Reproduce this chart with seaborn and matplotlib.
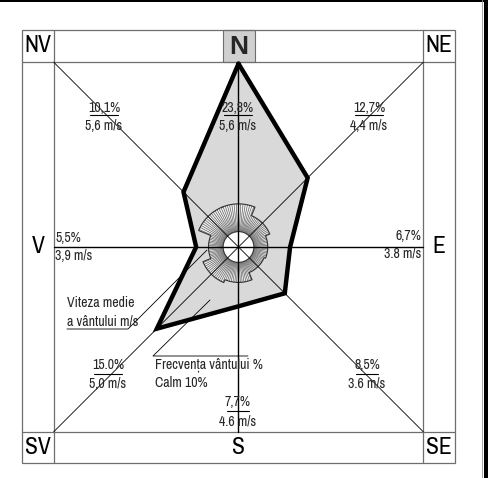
"""Wind rose - frecventa si viteza medie a vantului"""
import matplotlib

matplotlib.use("Agg")
import matplotlib.pyplot as plt
import numpy as np
import pandas as pd
import seaborn as sns
from matplotlib import font_manager
from matplotlib.patches import Rectangle

# data
directions = ["N", "NE", "E", "SE", "S", "SV", "V", "NV"]
frequency = [23.8, 12.7, 6.7, 8.5, 7.7, 15.0, 5.5, 10.1]
mean_speed = [5.6, 4.4, 3.8, 3.6, 4.6, 5.0, 3.9, 5.6]
freq_labels = ["23,8%", "12,7%", "6,7%", "8,5%", "7,7%", "15.0%", "5,5%", "10,1%"]
speed_labels = ["5,6 m/s", "4,4 m/s", "3.8 m/s", "3.6 m/s", "4.6 m/s",
                "5,0 m/s", "3,9 m/s", "5,6 m/s"]
calm = 10

# layout: 1 data unit = SCALE px, centre of the rose at (CX, CY) px
SCALE = 7.7
CX, CY = 238.5, 247.0
W, H = 503, 478
R_BOX = 24.0
R_CALM = 2.0
SMALL = 10


def P(x, y):
    """pixel position -> data units"""
    return (x - CX) / SCALE, (CY - y) / SCALE


sns.set_theme(style="white")
installed = {f.name for f in font_manager.fontManager.ttflist}
narrow = [f.name for f in font_manager.fontManager.ttflist
          if "Narrow" in f.name or "Condensed" in f.name]
wide = [f for f in ["Liberation Sans", "DejaVu Sans"] if f in installed]
family = narrow[:1] + wide
plt.rcParams["font.family"] = family + ["DejaVu Sans"]

fig = plt.figure(figsize=(W / 100, H / 100), dpi=100)
ax = fig.add_axes([0, 0, 1, 1])
ax.set_xlim(P(0, 0)[0], P(W, 0)[0])
ax.set_ylim(P(0, H)[1], P(0, 0)[1])
ax.axis("off")

# frequency polygon
df = pd.DataFrame({"dir": directions, "freq": frequency, "speed": mean_speed})
df["theta"] = np.deg2rad(np.arange(len(df)) * 45.0)
df["x"] = df["freq"] * np.sin(df["theta"])
df["y"] = df["freq"] * np.cos(df["theta"])
closed = pd.concat([df, df.iloc[:1]], ignore_index=True)
ax.fill(df["x"], df["y"], color="#d9d9d9", zorder=1, lw=0)

# mean speed ring (hatched sectors)
ring_x, ring_y, hx, hy = [], [], [], []
for i, s in enumerate(df["speed"]):
    a = np.deg2rad(np.arange(i * 45 - 22.5, i * 45 + 22.5 + 0.01, 3.0))
    ring_x += list(s * np.sin(a))
    ring_y += list(s * np.cos(a))
    for t in a[:-1] + np.deg2rad(1.5):
        hx += [R_CALM * np.sin(t), s * np.sin(t), np.nan]
        hy += [R_CALM * np.cos(t), s * np.cos(t), np.nan]
ax.fill(ring_x, ring_y, color="#f2f2f2", zorder=2, lw=0)
ax.plot(hx, hy, color="#555555", lw=0.45, zorder=3)
ax.plot(ring_x + ring_x[:1], ring_y + ring_y[:1], color="#333333", lw=0.8, zorder=3)
ax.add_patch(plt.Circle((0, 0), R_CALM, facecolor="white", edgecolor="#333333",
                        lw=0.8, zorder=4))

# axes of the rose
ax.plot([0, 0], [-R_BOX, R_BOX], color="black", lw=1.0, zorder=5)
ax.plot([-R_BOX, R_BOX], [0, 0], color="black", lw=1.0, zorder=5)
ax.plot([-R_BOX, R_BOX], [R_BOX, -R_BOX], color="black", lw=0.6, zorder=5)
ax.plot([-R_BOX, R_BOX], [-R_BOX, R_BOX], color="black", lw=0.6, zorder=5)

sns.lineplot(data=closed, x="x", y="y", sort=False, estimator=None, color="black",
             lw=3.2, ax=ax, zorder=6, solid_joinstyle="miter", legend=False)

# frame of direction cells
grey = "#6e6e6e"
x0, y0 = P(22, 463)
x1, y1 = P(455, 30)
ax.add_patch(Rectangle(P(223, 62), 32 / SCALE, 32 / SCALE, facecolor="#d0d0d0",
                       edgecolor=grey, lw=0.8, zorder=1))
ax.add_patch(Rectangle((x0, y0), x1 - x0, y1 - y0, fill=False, edgecolor=grey,
                       lw=0.9, zorder=1))
for xp in (54, 423):
    ax.plot([P(xp, 0)[0]] * 2, [y0, y1], color=grey, lw=0.9, zorder=1)
for yp in (62, 432):
    ax.plot([x0, x1], [P(0, yp)[1]] * 2, color=grey, lw=0.9, zorder=1)

# outer page border (top and right)
ax.add_patch(Rectangle(P(0, 2.5), 488 / SCALE, 2.5 / SCALE, color="black", lw=0))
ax.add_patch(Rectangle(P(484, H), 4 / SCALE, H / SCALE, color="black", lw=0))
ax.plot([P(482, 0)[0]] * 2, [P(0, H)[1], P(0, 0)[1]], color="#999999", lw=0.6)

cells = {"NV": (38, 46), "N": (239, 47), "NE": (439, 46), "V": (38, 247),
         "E": (439, 247), "SV": (38, 448), "S": (238, 448), "SE": (439, 448)}
for name, (xp, yp) in cells.items():
    if name == "N":
        ax.text(*P(xp, yp), name, ha="center", va="center", fontsize=19,
                fontweight="bold", family=wide + ["DejaVu Sans"], zorder=7)
    else:
        ax.text(*P(xp, yp), name, ha="center", va="center", fontsize=17,
                color="black", zorder=7)

# value labels: frequency over mean speed
label_pos = {"N": (238, 108, 115, 126), "NE": (369, 108, 115, 126),
             "NV": (104, 108, 115, 126), "SV": (108, 365, 374, 384),
             "S": (238, 402, 411, 422), "SE": (367, 365, 374, 384)}
for d, fl, sl in zip(directions, freq_labels, speed_labels):
    if d in label_pos:
        xp, yp, lp, sp = label_pos[d]
        ax.text(*P(xp, yp), fl, ha="center", va="center", fontsize=SMALL, zorder=7)
        ax.text(*P(xp, sp), sl, ha="center", va="center", fontsize=SMALL, zorder=7)
        half = (6 * len(fl) - 2) / 2
        ax.plot([P(xp - half, 0)[0], P(xp + half, 0)[0]], [P(0, lp)[1]] * 2,
                color="black", lw=0.8, zorder=7)
    elif d == "V":
        ax.text(*P(56, 238), fl, ha="left", va="center", fontsize=SMALL, zorder=7)
        ax.text(*P(55, 256), sl, ha="left", va="center", fontsize=SMALL, zorder=7)
    elif d == "E":
        ax.text(*P(421, 236), fl, ha="right", va="center", fontsize=SMALL, zorder=7)
        ax.text(*P(421, 254), sl, ha="right", va="center", fontsize=SMALL, zorder=7)

# legend notes with leader lines
ax.text(*P(67, 303), "Viteza medie", ha="left", va="center", fontsize=SMALL, zorder=7)
ax.text(*P(67, 322), "a vântului m/s", ha="left", va="center", fontsize=SMALL,
        zorder=7)
lx, ly = zip(P(67, 329), P(128, 329), P(207, 250))
ax.plot(lx, ly, color="black", lw=0.6, zorder=7)

ax.text(*P(155, 365), "Frecvența vântului %", ha="left", va="center",
        fontsize=SMALL, zorder=7)
ax.text(*P(155, 383), f"Calm {calm}%", ha="left", va="center", fontsize=SMALL,
        zorder=7)
lx, ly = zip(P(248, 356), P(153, 356), P(210, 300))
ax.plot(lx, ly, color="black", lw=0.6, zorder=7)

fig.savefig("out.png", dpi=100, facecolor="white")
